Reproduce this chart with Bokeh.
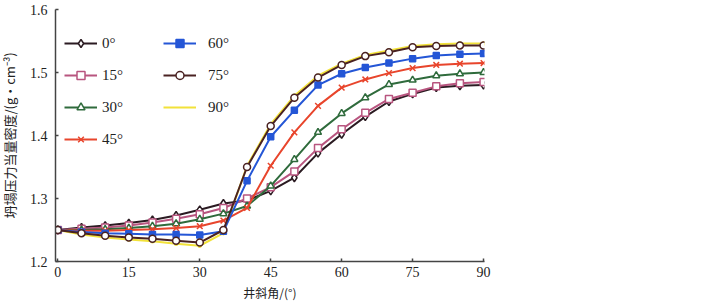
from bokeh.plotting import figure
from bokeh.models import Legend, LegendItem, FixedTicker, Range1d
from bokeh.embed import file_html
from bokeh.resources import INLINE

# ---- data ----
angles = [0, 5, 10, 15, 20, 25, 30, 35, 40, 45, 50, 55, 60, 65, 70, 75, 80, 85, 90]
s0 = [1.250, 1.254, 1.257, 1.261, 1.266, 1.273, 1.282, 1.292, 1.297, 1.312, 1.333, 1.372, 1.402, 1.430, 1.454, 1.466, 1.476, 1.479, 1.480]
s15 = [1.250, 1.252, 1.254, 1.257, 1.262, 1.268, 1.275, 1.285, 1.300, 1.318, 1.343, 1.380, 1.410, 1.436, 1.458, 1.468, 1.478, 1.483, 1.485]
s30 = [1.250, 1.250, 1.251, 1.253, 1.256, 1.260, 1.267, 1.276, 1.288, 1.320, 1.362, 1.405, 1.435, 1.460, 1.481, 1.488, 1.495, 1.498, 1.500]
s45 = [1.250, 1.249, 1.249, 1.250, 1.251, 1.253, 1.256, 1.265, 1.285, 1.352, 1.405, 1.447, 1.476, 1.489, 1.499, 1.507, 1.512, 1.514, 1.515]
s60 = [1.250, 1.247, 1.245, 1.244, 1.243, 1.243, 1.242, 1.248, 1.328, 1.398, 1.440, 1.480, 1.498, 1.508, 1.515, 1.522, 1.527, 1.529, 1.530]
s75 = [1.250, 1.245, 1.241, 1.238, 1.236, 1.233, 1.230, 1.250, 1.350, 1.415, 1.460, 1.492, 1.512, 1.526, 1.532, 1.540, 1.542, 1.543, 1.543]
s90 = [1.250, 1.243, 1.238, 1.235, 1.232, 1.228, 1.225, 1.245, 1.352, 1.418, 1.463, 1.495, 1.514, 1.528, 1.535, 1.542, 1.545, 1.546, 1.546]
series_labels = ["0°", "15°", "30°", "45°", "60°", "75°", "90°"]
x_ticks = [0, 15, 30, 45, 60, 75, 90]
y_ticks = [1.2, 1.3, 1.4, 1.5, 1.6]

series = [s0, s15, s30, s45, s60, s75, s90]
colors = ["#2b1b22", "#b8557f", "#2f6b3c", "#e8452c", "#2456d6", "#4a2222", "#f2e23a"]
markers = ["diamond", "square", "triangle", "x", "square", "circle", "circle"]
msizes = [8, 7, 7, 8, 6, 7, 3]
mfill = ["white", "white", "white", None, "#2456d6", "white", "#f2e23a"]

p = figure(frame_width=429, frame_height=252, output_backend="svg", toolbar_location=None,
           x_range=Range1d(-0.5, 90.2), y_range=Range1d(1.2, 1.6),
           min_border_left=57, min_border_top=13, min_border_right=228, min_border_bottom=40,
           margin=(-4, 0, -4, -4))
p.outline_line_color = None
p.xgrid.visible = False
p.ygrid.visible = False
p.background_fill_color = "white"
p.border_fill_color = "white"

renderers = {}
order = [6, 0, 1, 2, 3, 4, 5]
for i in order:
    ln = p.line(angles, series[i], line_color=colors[i], line_width=2)
    sc = p.scatter(angles, series[i], marker=markers[i], size=msizes[i],
                   line_color=colors[i], line_width=1.5,
                   fill_color=mfill[i] if mfill[i] else colors[i],
                   fill_alpha=1.0 if mfill[i] else 0.0)
    renderers[i] = [ln, sc] if i != 6 else [ln]

def make_legend(idx, loc, standoff):
    lg = Legend(items=[LegendItem(label=series_labels[i], renderers=renderers[i]) for i in idx],
                location=loc, orientation="vertical",
                glyph_width=33, glyph_height=20, label_height=20, spacing=12,
                label_standoff=standoff, padding=0, margin=0,
                border_line_color=None, background_fill_alpha=0,
                label_text_font="Liberation Serif", label_text_font_size="15px",
                label_text_color="#222222")
    return lg

p.add_layout(make_legend([0, 1, 2, 3], (9, 112), 5), "center")
p.add_layout(make_legend([4, 5, 6], (108, 144), 12), "center")

for ax in (p.xaxis[0], p.yaxis[0]):
    ax.axis_line_color = "#444444"
    ax.axis_line_width = 1.5
    ax.major_tick_line_color = "#444444"
    ax.major_tick_line_width = 1.5
    ax.major_tick_in = 3
    ax.major_tick_out = 0
    ax.minor_tick_line_color = None
    ax.major_label_text_font = "Liberation Serif"
    ax.major_label_text_font_size = "14px"
    ax.major_label_text_color = "#222222"
    ax.axis_label_text_font = "Noto Sans CJK SC"
    ax.axis_label_text_font_style = "normal"
    ax.axis_label_text_color = "#222222"

p.xaxis[0].ticker = FixedTicker(ticks=x_ticks)
p.yaxis[0].ticker = FixedTicker(ticks=y_ticks)
p.yaxis[0].major_label_overrides = {t: f"{t:.1f}" for t in y_ticks}
p.xaxis[0].major_label_standoff = 5
p.yaxis[0].major_label_standoff = 8
p.xaxis[0].axis_label = "井斜角/(°)"
p.yaxis[0].axis_label = "坍塌压力当量密度/(g·cm⁻³)"
p.xaxis[0].axis_label_text_font_size = "12px"
p.yaxis[0].axis_label_text_font_size = "13px"
p.xaxis[0].axis_label_standoff = 4
p.yaxis[0].axis_label_standoff = 8

open("out.html", "w").write(file_html(p, INLINE))
